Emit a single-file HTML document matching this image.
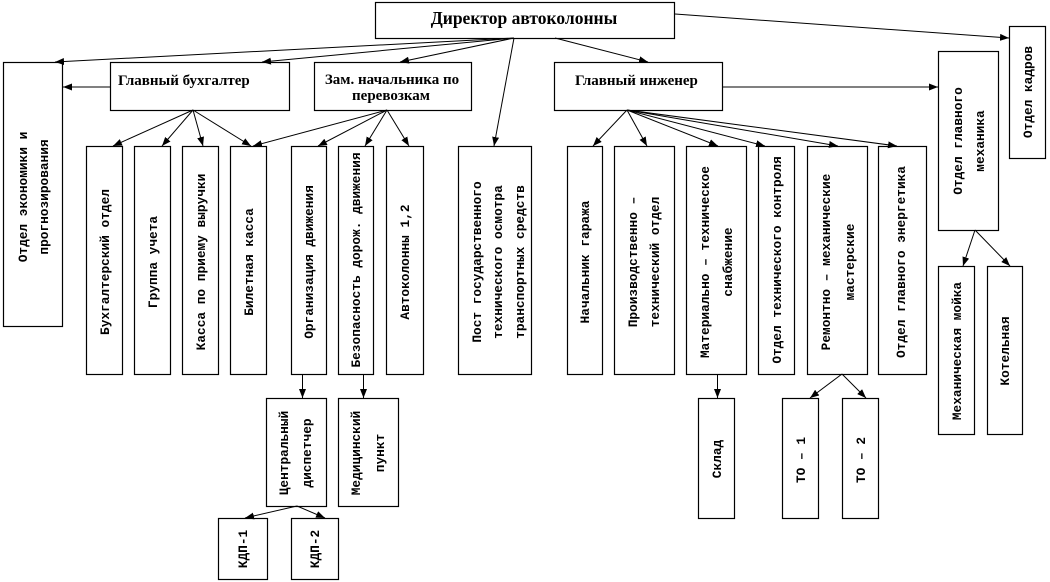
<!DOCTYPE html>
<html>
<head>
<meta charset="utf-8">
<style>
html,body{margin:0;padding:0;background:#fff;}
svg{display:block;}
.r{fill:#fff;stroke:#000;stroke-width:1.2;}
.l{stroke:#000;stroke-width:1;fill:none;marker-end:url(#a);}
.v{font-family:"Liberation Mono","DejaVu Sans Mono",monospace;font-size:12.8px;font-weight:bold;fill:#000;text-anchor:middle;}
.h{font-family:"Liberation Serif","DejaVu Serif",serif;font-weight:bold;font-size:15px;fill:#000;}
</style>
</head>
<body>
<svg width="1050" height="582" viewBox="0 0 1050 582" xmlns="http://www.w3.org/2000/svg">
<defs>
<marker id="a" viewBox="0 0 10 10" refX="10" refY="5" markerWidth="9" markerHeight="7" markerUnits="userSpaceOnUse" orient="auto" preserveAspectRatio="none">
<path d="M0,0 L10,5 L0,10 z" fill="#000"/>
</marker>
</defs>

<!-- boxes -->
<rect class="r" x="375.5" y="2.5" width="299" height="36"/>
<rect class="r" x="3.5" y="62.5" width="59" height="264"/>
<rect class="r" x="110.5" y="62.5" width="179" height="48"/>
<rect class="r" x="314.5" y="62.5" width="157" height="48"/>
<rect class="r" x="554.5" y="62.5" width="168" height="48"/>
<rect class="r" x="938.5" y="51.5" width="60" height="179"/>
<rect class="r" x="1009.5" y="26.5" width="36" height="132"/>

<rect class="r" x="86.5" y="146.5" width="36" height="228"/>
<rect class="r" x="134.5" y="146.5" width="36" height="228"/>
<rect class="r" x="182.5" y="146.5" width="36" height="228"/>
<rect class="r" x="230.5" y="146.5" width="36" height="228"/>
<rect class="r" x="291.5" y="146.5" width="35" height="228"/>
<rect class="r" x="338.5" y="146.5" width="35" height="228"/>
<rect class="r" x="386.5" y="146.5" width="37" height="228"/>
<rect class="r" x="458.5" y="146.5" width="73" height="228"/>
<rect class="r" x="567.5" y="146.5" width="35" height="228"/>
<rect class="r" x="614.5" y="146.5" width="60" height="228"/>
<rect class="r" x="686.5" y="146.5" width="60" height="228"/>
<rect class="r" x="758.5" y="146.5" width="36" height="228"/>
<rect class="r" x="807.5" y="146.5" width="60" height="228"/>
<rect class="r" x="878.5" y="146.5" width="48" height="228"/>

<rect class="r" x="938.5" y="266.5" width="36" height="168"/>
<rect class="r" x="987.5" y="266.5" width="35" height="168"/>

<rect class="r" x="266.5" y="398.5" width="60" height="108"/>
<rect class="r" x="338.5" y="398.5" width="60" height="108"/>
<rect class="r" x="218.5" y="518.5" width="49" height="61"/>
<rect class="r" x="291.5" y="518.5" width="47" height="61"/>

<rect class="r" x="698.5" y="398.5" width="36" height="120"/>
<rect class="r" x="782.5" y="398.5" width="36" height="120"/>
<rect class="r" x="842.5" y="398.5" width="36" height="120"/>

<!-- connectors -->
<line class="l" x1="514" y1="38" x2="55" y2="62"/>
<line class="l" x1="514" y1="38" x2="262" y2="62"/>
<line class="l" x1="514" y1="38" x2="400" y2="62"/>
<line class="l" x1="514" y1="38" x2="494" y2="146"/>
<line class="l" x1="555" y1="38" x2="648" y2="62"/>
<line class="l" x1="675" y1="14" x2="1009" y2="38"/>
<line class="l" x1="110" y1="87" x2="63" y2="87"/>
<line class="l" x1="722" y1="87" x2="938" y2="87"/>

<line class="l" x1="193" y1="110" x2="113" y2="146"/>
<line class="l" x1="193" y1="110" x2="162" y2="146"/>
<line class="l" x1="193" y1="110" x2="203" y2="146"/>
<line class="l" x1="193" y1="110" x2="251" y2="146"/>

<line class="l" x1="387" y1="110" x2="253" y2="146"/>
<line class="l" x1="387" y1="110" x2="318" y2="146"/>
<line class="l" x1="387" y1="110" x2="365" y2="146"/>
<line class="l" x1="387" y1="110" x2="409" y2="146"/>

<line class="l" x1="627" y1="110" x2="593" y2="146"/>
<line class="l" x1="627" y1="110" x2="647" y2="146"/>
<line class="l" x1="627" y1="110" x2="718" y2="146"/>
<line class="l" x1="627" y1="110" x2="765" y2="146"/>
<line class="l" x1="627" y1="110" x2="838" y2="146"/>
<line class="l" x1="627" y1="110" x2="897" y2="146"/>

<line class="l" x1="975" y1="230" x2="963" y2="266"/>
<line class="l" x1="975" y1="230" x2="1010" y2="266"/>

<line class="l" x1="302.5" y1="374" x2="302.5" y2="398"/>
<line class="l" x1="363.5" y1="374" x2="363.5" y2="398"/>
<line class="l" x1="297" y1="506" x2="245" y2="518"/>
<line class="l" x1="297" y1="506" x2="325" y2="518"/>

<line class="l" x1="717.5" y1="374" x2="717.5" y2="398"/>
<line class="l" x1="842" y1="374" x2="810" y2="398"/>
<line class="l" x1="842" y1="374" x2="866" y2="398"/>

<!-- horizontal header texts -->
<text x="524" y="24" text-anchor="middle" style="font-family:'Liberation Serif','DejaVu Serif',serif;font-weight:bold;font-size:17.5px;">Директор автоколонны</text>
<text class="h" x="118" y="85">Главный бухгалтер</text>
<text class="h" x="392" y="84" text-anchor="middle">Зам. начальника по</text>
<text class="h" x="391" y="100" text-anchor="middle">перевозкам</text>
<text class="h" x="575" y="85">Главный инженер</text>

<!-- vertical texts -->
<text class="v" x="23" y="197" dy="0.33em" transform="rotate(-90 23 197)">Отдел экономики и</text>
<text class="v" x="44" y="197" dy="0.33em" transform="rotate(-90 44 197)">прогнозирования</text>

<text class="v" x="105" y="262" dy="0.33em" transform="rotate(-90 105 262)">Бухгалтерский отдел</text>
<text class="v" x="153" y="262" dy="0.33em" transform="rotate(-90 153 262)">Группа учета</text>
<text class="v" x="201" y="262" dy="0.33em" transform="rotate(-90 201 262)">Касса по приему выручки</text>
<text class="v" x="249" y="262" dy="0.33em" transform="rotate(-90 249 262)">Билетная касса</text>
<text class="v" x="309" y="262" dy="0.33em" transform="rotate(-90 309 262)">Организация движения</text>
<text class="v" x="356" y="260" dy="0.33em" transform="rotate(-90 356 260)">Безопасность дорож. движения</text>
<text class="v" x="405" y="262" dy="0.33em" transform="rotate(-90 405 262)">Автоколонны 1,2</text>

<text class="v" x="477" y="262" dy="0.33em" transform="rotate(-90 477 262)">Пост государственного</text>
<text class="v" x="498" y="262" dy="0.33em" transform="rotate(-90 498 262)">технического осмотра</text>
<text class="v" x="520" y="262" dy="0.33em" transform="rotate(-90 520 262)">транспортных средств</text>

<text class="v" x="585" y="262" dy="0.33em" transform="rotate(-90 585 262)">Начальник гаража</text>
<text class="v" x="633" y="262" dy="0.33em" transform="rotate(-90 633 262)">Производственно –</text>
<text class="v" x="655" y="262" dy="0.33em" transform="rotate(-90 655 262)">технический отдел</text>
<text class="v" x="705" y="262" dy="0.33em" transform="rotate(-90 705 262)">Материально – техническое</text>
<text class="v" x="728" y="262" dy="0.33em" transform="rotate(-90 728 262)">снабжение</text>
<text class="v" x="777" y="260" dy="0.33em" transform="rotate(-90 777 260)">Отдел технического контроля</text>
<text class="v" x="826" y="262" dy="0.33em" transform="rotate(-90 826 262)">Ремонтно – механические</text>
<text class="v" x="850" y="262" dy="0.33em" transform="rotate(-90 850 262)">мастерские</text>
<text class="v" x="901" y="262" dy="0.33em" transform="rotate(-90 901 262)">Отдел главного энергетика</text>

<text class="v" x="958" y="141" dy="0.33em" transform="rotate(-90 958 141)">Отдел главного</text>
<text class="v" x="980" y="141" dy="0.33em" transform="rotate(-90 980 141)">механика</text>
<text class="v" x="1028" y="92" dy="0.33em" transform="rotate(-90 1028 92)">Отдел кадров</text>

<text class="v" x="957" y="351" dy="0.33em" transform="rotate(-90 957 351)">Механическая мойка</text>
<text class="v" x="1005" y="351" dy="0.33em" transform="rotate(-90 1005 351)">Котельная</text>

<text class="v" x="284" y="453" dy="0.33em" transform="rotate(-90 284 453)">Центральный</text>
<text class="v" x="307" y="453" dy="0.33em" transform="rotate(-90 307 453)">диспетчер</text>
<text class="v" x="356" y="453" dy="0.33em" transform="rotate(-90 356 453)">Медицинский</text>
<text class="v" x="380" y="453" dy="0.33em" transform="rotate(-90 380 453)">пункт</text>

<text class="v" x="243" y="549" dy="0.33em" transform="rotate(-90 243 549)">КДП-1</text>
<text class="v" x="315" y="549" dy="0.33em" transform="rotate(-90 315 549)">КДП-2</text>

<text class="v" x="717" y="459" dy="0.33em" transform="rotate(-90 717 459)">Склад</text>
<text class="v" x="801" y="460" dy="0.33em" transform="rotate(-90 801 460)">ТО – 1</text>
<text class="v" x="861" y="460" dy="0.33em" transform="rotate(-90 861 460)">ТО – 2</text>
</svg>
</body>
</html>
